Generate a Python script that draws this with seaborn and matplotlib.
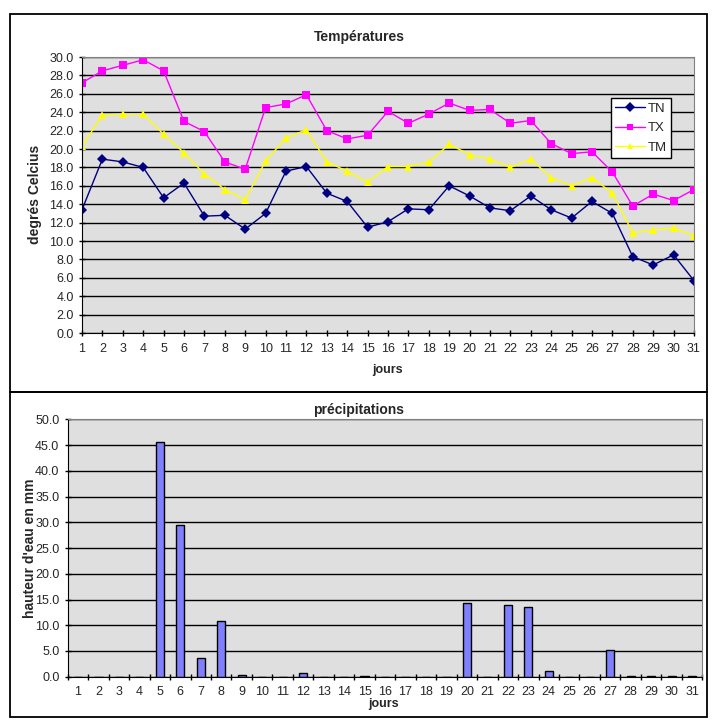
import matplotlib
matplotlib.use("Agg")
import matplotlib.pyplot as plt
import matplotlib.patches as mpatches
from matplotlib.ticker import MultipleLocator, FixedLocator, FormatStrFormatter
import pandas as pd
import seaborn as sns

jours = list(range(1, 32))

TN = [13.4, 18.9, 18.6, 18.0, 14.7, 16.3, 12.7, 12.8, 11.3, 13.0, 17.6, 18.1, 15.2, 14.3, 11.5,
      12.1, 13.5, 13.4, 16.0, 14.9, 13.6, 13.3, 14.9, 13.4, 12.5, 14.3, 13.0, 8.3, 7.4, 8.5, 5.7]
TX = [27.2, 28.5, 29.1, 29.7, 28.5, 23.0, 21.9, 18.6, 17.8, 24.5, 24.9, 25.9, 22.0, 21.1, 21.5,
      24.1, 22.8, 23.8, 25.0, 24.2, 24.3, 22.8, 23.1, 20.6, 19.5, 19.7, 17.5, 13.8, 15.1, 14.4, 15.6]
TM = [20.3, 23.7, 23.8, 23.8, 21.6, 19.6, 17.3, 15.6, 14.5, 18.7, 21.2, 22.1, 18.6, 17.6, 16.4,
      18.1, 18.1, 18.6, 20.5, 19.4, 18.9, 18.0, 18.9, 16.9, 16.0, 16.9, 15.2, 10.9, 11.2, 11.4, 10.6]
precip = [0, 0, 0, 0, 45.5, 29.4, 3.6, 10.8, 0.4, 0, 0, 0.8, 0, 0, 0.2,
          0, 0, 0, 0, 14.4, 0, 13.9, 13.5, 1.2, 0, 0, 5.1, 0.2, 0.2, 0.2, 0.2]

sns.set_style("white")
plt.rcParams["font.family"] = ["Liberation Sans", "DejaVu Sans"]
plt.rcParams["font.size"] = 9

BG = "#dfdfdf"

temp = pd.DataFrame({"jour": jours, "TN": TN, "TX": TX, "TM": TM})
temp_long = temp.melt(id_vars="jour", var_name="serie", value_name="temp")
pluie = pd.DataFrame({"jour": [str(j) for j in jours], "mm": precip})

fig = plt.figure(figsize=(7.25, 7.21), dpi=100)

# cadres des deux graphiques
fig.add_artist(mpatches.Rectangle((0.0138, 0.4563), 0.9614, 0.5243, transform=fig.transFigure,
                                  fill=False, edgecolor="black", linewidth=1.3))
fig.add_artist(mpatches.Rectangle((0.0138, 0.0056), 0.9614, 0.4508, transform=fig.transFigure,
                                  fill=False, edgecolor="black", linewidth=1.3))

# températures
ax1 = fig.add_axes([0.1131, 0.5381, 0.8441, 0.3828])
ax1.set_facecolor(BG)
ax1.set_axisbelow(True)
ax1.yaxis.grid(True, color="black", linewidth=1)
sns.lineplot(data=temp_long, x="jour", y="temp", hue="serie", style="serie",
             palette={"TN": "#000080", "TX": "#ff00ff", "TM": "#ffff00"},
             markers={"TN": "D", "TX": "s", "TM": "^"}, dashes=False,
             markersize=5.5, linewidth=1, markeredgewidth=0, ax=ax1)
ax1.set_xlim(1, 31)
ax1.set_ylim(0, 30)
ax1.xaxis.set_major_locator(MultipleLocator(1))
ax1.yaxis.set_major_locator(MultipleLocator(2))
ax1.yaxis.set_major_formatter(FormatStrFormatter("%.1f"))
ax1.tick_params(axis="both", direction="inout", length=5, width=1, color="black", labelsize=9)
ax1.tick_params(axis="x", pad=5)
ax1.tick_params(left=True, bottom=True)
for side in ["top", "right"]:
    ax1.spines[side].set_color("#808080")
for side in ["left", "bottom"]:
    ax1.spines[side].set_color("black")
ax1.set_xlabel("")
ax1.set_ylabel("")
leg = ax1.legend(loc="upper left", bbox_to_anchor=(0.864, 0.85), frameon=True, fancybox=False,
                 edgecolor="black", framealpha=1, fontsize=9.5, handlelength=2.3,
                 borderpad=0.3, labelspacing=0.55, handletextpad=0.2, borderaxespad=0,
                 markerscale=0.9)
leg.get_frame().set_linewidth(1)
fig.text(0.495, 0.9487, "Températures", ha="center", va="center", fontsize=10, fontweight="bold")
fig.text(0.534, 0.487, "jours", ha="center", va="center", fontsize=9, fontweight="bold")
fig.text(0.048, 0.73, "degrés Celcius", ha="center", va="center", rotation=90,
         fontsize=10, fontweight="bold")

# précipitations
ax2 = fig.add_axes([0.0934, 0.0614, 0.8753, 0.357])
ax2.set_facecolor(BG)
ax2.set_axisbelow(True)
ax2.yaxis.grid(True, color="black", linewidth=1)
sns.barplot(data=pluie, x="jour", y="mm", color="#8080ff", saturation=1,
            edgecolor="black", linewidth=1, width=0.4, ax=ax2)
ax2.set_xlim(-0.5, 30.5)
ax2.set_ylim(0, 50)
ax2.yaxis.set_major_locator(MultipleLocator(5))
ax2.yaxis.set_major_formatter(FormatStrFormatter("%.1f"))
ax2.xaxis.set_minor_locator(FixedLocator([i - 0.5 for i in range(32)]))
ax2.tick_params(axis="x", which="major", length=0, pad=7, labelsize=9)
ax2.tick_params(axis="x", which="minor", direction="inout", length=5, width=1, color="black", bottom=True)
ax2.tick_params(axis="y", direction="inout", length=5, width=1, color="black", left=True, labelsize=9)
for side in ["top", "right"]:
    ax2.spines[side].set_color("#808080")
for side in ["left", "bottom"]:
    ax2.spines[side].set_color("black")
ax2.set_xlabel("")
ax2.set_ylabel("")
fig.text(0.494, 0.431, "précipitations", ha="center", va="center", fontsize=10, fontweight="bold")
fig.text(0.529, 0.0235, "jours", ha="center", va="center", fontsize=9, fontweight="bold")
fig.text(0.041, 0.24, "hauteur d'eau en mm", ha="center", va="center", rotation=90,
         fontsize=10, fontweight="bold")

fig.savefig("out.png", dpi=100)
